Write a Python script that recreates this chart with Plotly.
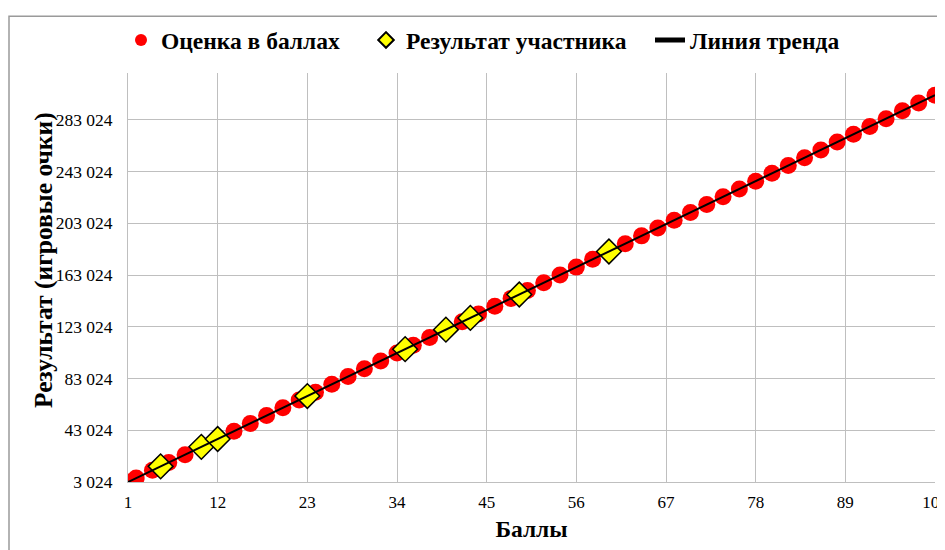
import plotly.graph_objects as go

# Data
score_x = [1, 2, 4, 6, 8, 10, 12, 14, 16, 18, 20, 22, 24, 26, 28, 30, 32, 34, 36, 38,
           40, 42, 44, 46, 48, 50, 52, 54, 56, 58, 60, 62, 64, 66, 68, 70, 72, 74, 76,
           78, 80, 82, 84, 86, 88, 90, 92, 94, 96, 98, 100]
score_y = [3024, 6044, 12084, 18124, 24164, 30204, 36244, 42284, 48324, 54364, 60404,
           66444, 72484, 78524, 84564, 90604, 96644, 102684, 108724, 114764, 120804,
           126844, 132884, 138924, 144964, 151004, 157044, 163084, 169124, 175164,
           181204, 187244, 193284, 199324, 205364, 211404, 217444, 223484, 229524,
           235564, 241604, 247644, 253684, 259724, 265764, 271804, 277844, 283884,
           289924, 295964, 302004]

part_x = [5, 10, 12, 23, 35, 40, 43, 49, 60]
part_y = [15104, 30204, 36244, 69464, 105704, 120804, 129864, 147984, 181204]

trend_x = [1, 100]
trend_y = [3024, 302004]

x_ticks = [1, 12, 23, 34, 45, 56, 67, 78, 89, 100]
y_ticks = [3024, 43024, 83024, 123024, 163024, 203024, 243024, 283024]
y_tick_labels = ["3 024", "43 024", "83 024", "123 024", "163 024", "203 024",
                 "243 024", "283 024"]

FONT = "Liberation Serif"
# the page body adds an 8px margin, so the figure is 8px smaller than the window
W, H = 937, 542
L, R, T, B = 120, 10, 63, 68
PW, PH = W - L - R, H - T - B

fig = go.Figure()
fig.add_trace(go.Scatter(
    x=score_x, y=score_y, mode="markers", name="Оценка в баллах", legend="legend",
    marker=dict(symbol="circle", size=17, color="#FF0000", line=dict(width=0)),
))
fig.add_trace(go.Scatter(
    x=part_x, y=part_y, mode="markers", name="Результат участника", legend="legend2",
    marker=dict(symbol="diamond", size=19, color="#FFFF00",
                line=dict(width=1.5, color="#000000")),
))
fig.add_trace(go.Scatter(
    x=trend_x, y=trend_y, mode="lines", name="Линия тренда", legend="legend3",
    line=dict(color="#000000", width=2),
))


def leg(text_left_px):
    return dict(
        orientation="h", x=(text_left_px - 40 - L) / PW, xanchor="left",
        y=(PH + T - 30) / PH, yanchor="middle",
        font=dict(family=FONT, size=23.5, color="#000000", weight="bold"),
        itemsizing="constant", itemwidth=30, bgcolor="rgba(0,0,0,0)",
    )


fig.update_layout(
    width=W, height=H,
    margin=dict(l=L, r=R, t=T, b=B),
    paper_bgcolor="white", plot_bgcolor="white",
    font=dict(family=FONT, color="#000000"),
    showlegend=True,
    legend=leg(153), legend2=leg(398), legend3=leg(682),
    xaxis=dict(
        range=[1, 100], tickmode="array", tickvals=x_ticks,
        ticktext=[str(v) for v in x_ticks],
        showgrid=True, gridcolor="#BFBFBF", gridwidth=1,
        showline=True, linecolor="#BFBFBF", linewidth=1,
        zeroline=False, ticks="", ticklen=0, automargin=False,
        ticklabeloverflow="allow", ticklabelstandoff=5,
        tickfont=dict(family=FONT, size=17, color="#000000"),
        title=dict(text="Баллы", font=dict(family=FONT, size=23.5, color="#000000", weight="bold"),
                   standoff=9),
    ),
    yaxis=dict(
        range=[3024, 319178], tickmode="array", tickvals=y_ticks, ticktext=y_tick_labels,
        showgrid=True, gridcolor="#BFBFBF", gridwidth=1,
        showline=True, linecolor="#BFBFBF", linewidth=1,
        zeroline=False, ticks="", ticklen=0, automargin=False,
        ticklabeloverflow="allow", ticklabelstandoff=11,
        tickfont=dict(family=FONT, size=17.5, color="#000000"),
    ),
    annotations=[dict(
        text="Результат (игровые очки)", xref="paper", yref="paper",
        x=(35 - L) / PW, y=(PH + T - 251) / PH, xanchor="center", yanchor="middle",
        textangle=-90, showarrow=False,
        font=dict(family=FONT, size=25.5, color="#000000", weight="bold"),
    )],
    shapes=[dict(type="rect", xref="paper", yref="paper",
                 x0=(1 - L) / PW, x1=1.2, y0=-0.3, y1=(PH + T - 6) / PH,
                 line=dict(color="#9A9A9A", width=1.5), layer="below")],
)

fig.write_html("out.html")
